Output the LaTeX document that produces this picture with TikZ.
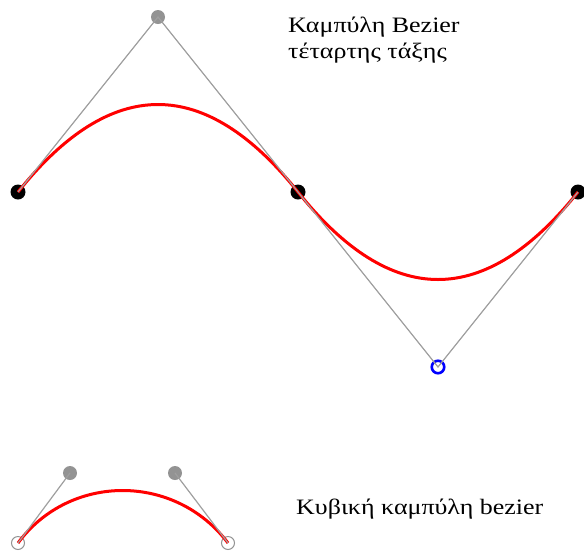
\documentclass[tikz,border=0pt]{standalone}
\usepackage{fontspec}
\setmainfont{Liberation Serif}
\newfontfamily\widefont[FakeStretch=1.18]{Liberation Serif}
\usetikzlibrary{calc,positioning}

\begin{document}
\begin{tikzpicture}[x=1pt, y=-1pt]
    % Styles
    \tikzstyle{dot} = [circle, fill=black, inner sep=0pt, minimum size=15pt]
    \tikzstyle{handle} = [circle, fill=gray!85, inner sep=0pt, minimum size=14pt]
    \tikzstyle{ring} = [circle, draw=blue, line width=2.6pt, inner sep=0pt, minimum size=12.5pt]
    \tikzstyle{endring} = [circle, draw=gray!85, line width=1pt, inner sep=0pt, minimum size=13pt]
    \tikzstyle{line} = [draw, gray!75, line width=1.2pt]
    \tikzstyle{curve} = [draw, red, line width=3pt]
    \tikzstyle{caption} = [font=\widefont\fontsize{22}{26}\selectfont, inner sep=0pt, anchor=base west]

    \useasboundingbox (0,0) rectangle (584,550);

    % Points
    \coordinate (p0) at (18,192);
    \coordinate (p1) at (158,17);
    \coordinate (p2) at (298,192);
    \coordinate (p3) at (438,367);
    \coordinate (p4) at (578,192);
    \coordinate (q0) at (18,543);
    \coordinate (q1) at (70,473);
    \coordinate (q2) at (175,473);
    \coordinate (q3) at (228,543);

    % Nodes
    \node [dot] (a) at (p0) {};
    \node [handle] (b) at (p1) {};
    \node [dot] (c) at (p2) {};
    \node [ring] (d) at (p3) {};
    \node [dot] (e) at (p4) {};
    \node [endring] (s) at (q0) {};
    \node [handle] (u) at (q1) {};
    \node [handle] (v) at (q2) {};
    \node [endring] (t) at (q3) {};

    % Curves
    \path [curve] (p0) .. controls ($(p0)!2/3!(p1)$) and ($(p2)!2/3!(p1)$) .. (p2)
                       .. controls ($(p2)!2/3!(p3)$) and ($(p4)!2/3!(p3)$) .. (p4);
    \path [curve] (q0) .. controls (q1) and (q2) .. (q3);

    % Edges
    \path [line] (p0) -- (p1) -- (p2) -- (p3) -- (p4);
    \path [line] (q0) -- (q1);
    \path [line] (q2) -- (q3);

    % Labels
    \node [caption] (title1) at (288,32) {Καμπύλη Bezier};
    \node [caption] (title2) at (288,58) {τέταρτης τάξης};
    \node [caption] (title3) at (296,514) {Κυβική καμπύλη bezier};
\end{tikzpicture}
\end{document}
